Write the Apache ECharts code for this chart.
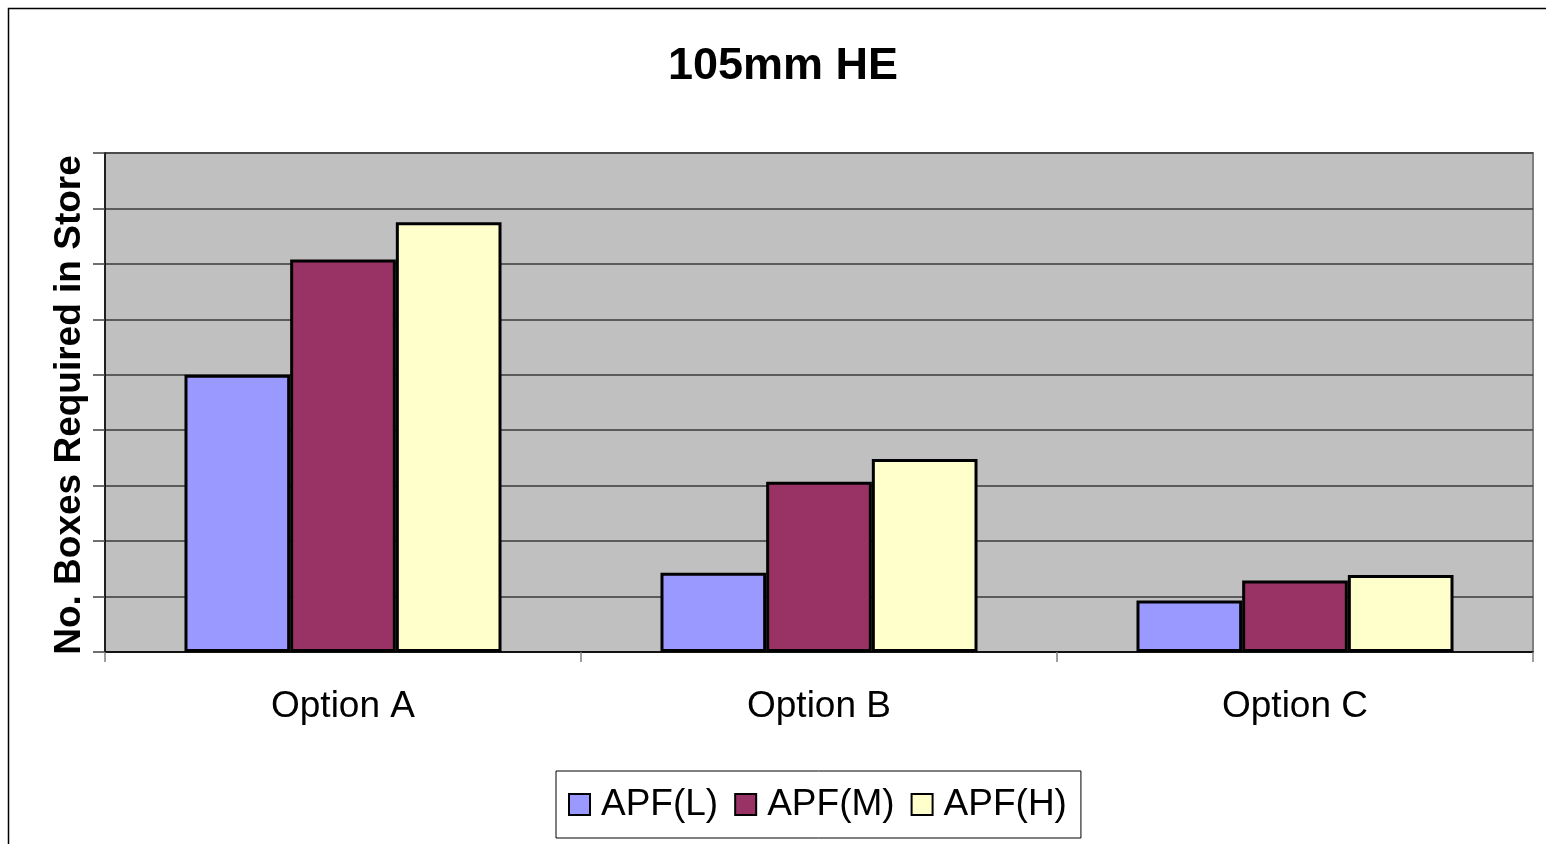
<!DOCTYPE html>
<html>
<head>
<meta charset="utf-8">
<script src="https://cdn.jsdelivr.net/npm/echarts@6/dist/echarts.min.js"></script>
<style>
html,body{margin:0;padding:0;background:#fff;}
#chart{width:1546px;height:844px;}
</style>
</head>
<body>
<div id="chart"></div>
<script>
const categories = ['Option A', 'Option B', 'Option C'];
const seriesNames = ['APF(L)', 'APF(M)', 'APF(H)'];
const apfL = [5.0, 1.43, 0.93];
const apfM = [7.08, 3.07, 1.29];
const apfH = [7.75, 3.48, 1.39];
const colors = ['#9999FF', '#993366', '#FFFFCC'];
const titleText = '105mm HE';
const yAxisTitle = 'No. Boxes Required in Store';

const FONT = '"Liberation Sans", Arial, sans-serif';
const chart = echarts.init(document.getElementById('chart'), null, {renderer: 'canvas'});

const values = [apfL, apfM, apfH];
const option = {
  animation: false,
  backgroundColor: '#ffffff',
  graphic: [
    {type: 'rect', z: -10, shape: {x: 8.5, y: 8.5, width: 1600, height: 900},
     style: {fill: 'none', stroke: '#000', lineWidth: 1.5}},
    {type: 'text', x: 783, y: 67, style: {text: titleText, fontFamily: FONT, fontWeight: 'bold', fontSize: 45,
      fill: '#000', textAlign: 'center', textVerticalAlign: 'middle'}},
    {type: 'text', x: 70, y: 405, rotation: Math.PI / 2, style: {text: yAxisTitle, fontFamily: FONT, fontWeight: 'bold', fontSize: 37,
      fill: '#000', textAlign: 'center', textVerticalAlign: 'middle'}}
  ],
  grid: {left: 105, right: 13, top: 153, bottom: 192, show: true, backgroundColor: '#C0C0C0',
    borderColor: '#808080', borderWidth: 2, containLabel: false},
  legend: {
    data: seriesNames, left: 556, top: 771, orient: 'horizontal',
    padding: [15, 14, 15, 12], borderColor: '#000', borderWidth: 1, backgroundColor: '#fff',
    itemWidth: 21, itemHeight: 21, itemGap: 16, icon: 'rect',
    textStyle: {fontFamily: FONT, fontSize: 37, color: '#000', padding: [0, 0, 0, 6]}
  },
  xAxis: {
    type: 'category', data: categories,
    axisLine: {lineStyle: {color: '#000', width: 1.5}},
    axisTick: {show: true, length: 10, lineStyle: {color: '#808080', width: 1.5}},
    axisLabel: {fontFamily: FONT, fontSize: 37, color: '#000', margin: 36},
    splitLine: {show: false}
  },
  yAxis: {
    type: 'value', min: 0, max: 9, interval: 1,
    axisLine: {show: true, lineStyle: {color: '#000', width: 1.5}},
    axisTick: {show: true, inside: false, length: 12, lineStyle: {color: '#404040', width: 1.5}},
    axisLabel: {show: false},
    splitLine: {show: true, lineStyle: {color: '#3a3a3a', width: 1.5}}
  },
  series: seriesNames.map((name, i) => ({
    name: name, type: 'bar', data: values[i],
    barGap: '0%', barCategoryGap: '33.4%',
    itemStyle: {color: colors[i], borderColor: '#000', borderWidth: 3}
  }))
};
chart.setOption(option);
</script>
</body>
</html>
